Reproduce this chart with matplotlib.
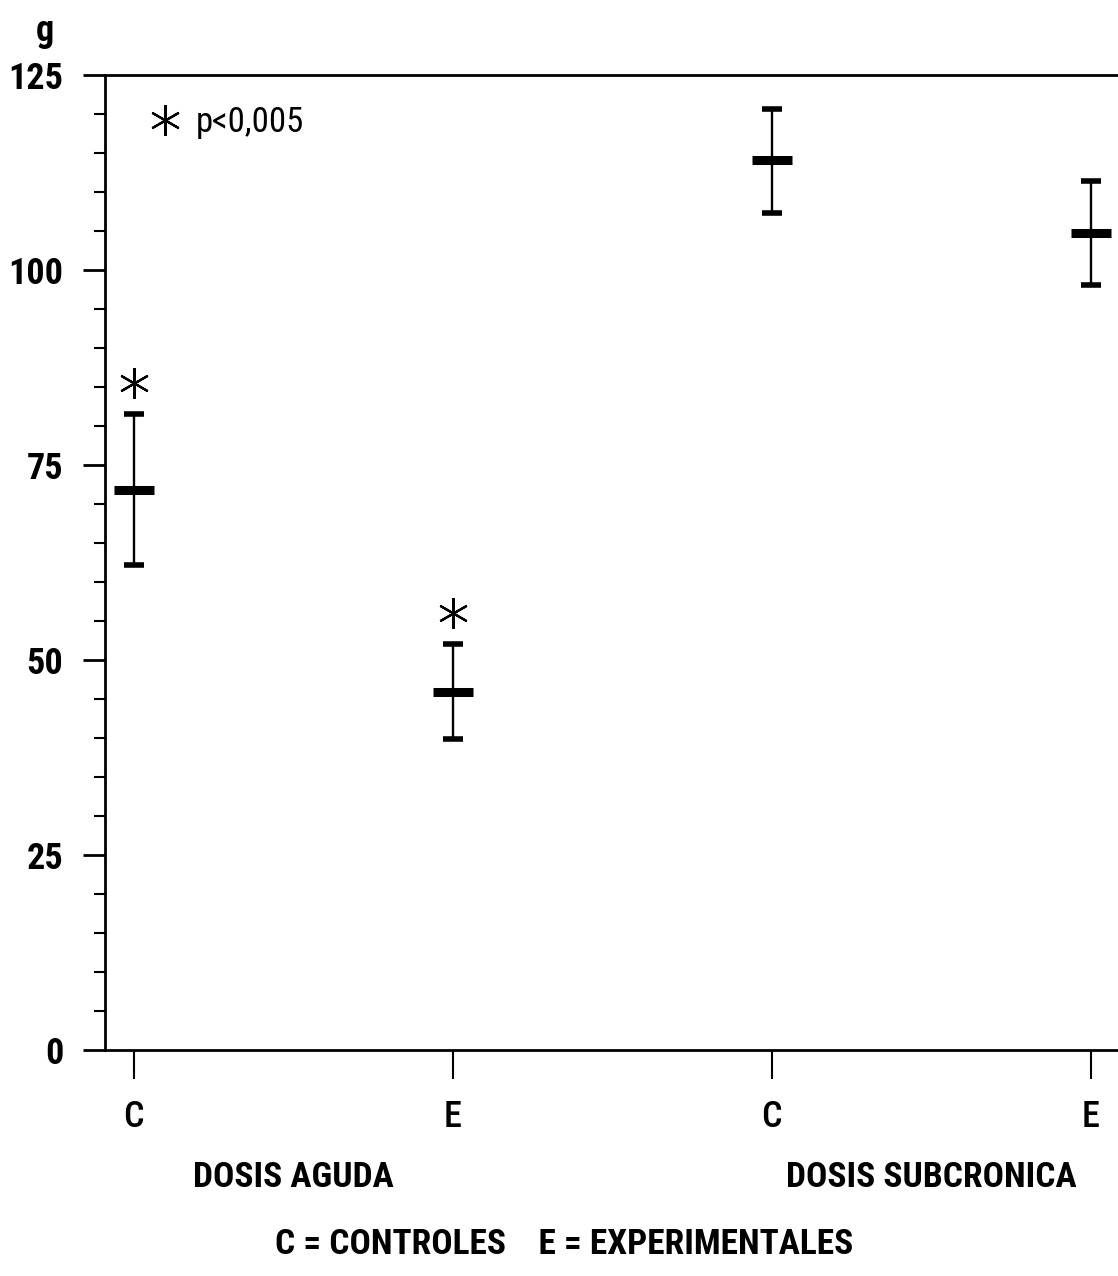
import matplotlib.pyplot as plt
from matplotlib.lines import Line2D
from matplotlib.ticker import MultipleLocator

# values (g)
groups = ["C", "E", "C", "E"]
means = [71.8, 45.9, 114.1, 104.7]
upper = [81.6, 52.0, 120.7, 111.4]
lower = [62.2, 39.9, 107.3, 98.1]
star_groups = [1, 2]
star_values = [85.5, 56.0]
dose_labels = ["DOSIS AGUDA", "DOSIS SUBCRONICA"]
key_text = "C = CONTROLES    E = EXPERIMENTALES"

NARROW = "Roboto Condensed"


def main():
    fig = plt.figure(figsize=(11.18, 12.76), dpi=100)
    ax = fig.add_axes([105 / 1118, 226 / 1276, 1013 / 1118, 975 / 1276])

    xs = list(range(1, len(groups) + 1))
    err_lo = [m - l for m, l in zip(means, lower)]
    err_hi = [u - m for m, u in zip(means, upper)]

    # error bars with caps
    ax.errorbar(xs, means, yerr=[err_lo, err_hi], fmt="none", ecolor="black",
                elinewidth=1.7, capsize=7.2, capthick=4, zorder=3)
    # thick mean marks
    ax.plot(xs, means, linestyle="none", marker="_", markersize=29,
            markeredgewidth=6.5, color="black", zorder=4)
    # significance asterisks
    ax.plot(star_groups, star_values, linestyle="none", marker=(6, 2, 0),
            markersize=22, markeredgewidth=1.6, color="black", zorder=4)

    ax.set_xlim(0.91, 4.085)
    ax.set_ylim(0, 125)

    ax.spines["right"].set_visible(False)
    for s in ["left", "bottom", "top"]:
        ax.spines[s].set_linewidth(2)

    ax.set_xticks(xs)
    ax.set_xticklabels(groups, fontfamily=NARROW, fontweight="medium",
                       fontsize=26)
    ax.tick_params(axis="x", direction="out", length=21, width=1.5, pad=14)

    ax.yaxis.set_major_locator(MultipleLocator(25))
    ax.yaxis.set_minor_locator(MultipleLocator(5))
    ax.tick_params(axis="y", which="major", direction="out", length=16,
                   width=2, pad=14)
    ax.tick_params(axis="y", which="minor", direction="out", length=8,
                   width=1.5)
    for lab in ax.get_yticklabels():
        lab.set_fontfamily(NARROW)
        lab.set_fontweight("bold")
        lab.set_fontsize(26)

    # unit label
    fig.text(45 / 1118, 1 - 31 / 1276, "g", fontfamily=NARROW,
             fontweight="bold", fontsize=26, ha="center", va="center")

    # dose group labels under the pairs
    for i, lab in enumerate(dose_labels):
        xc = (xs[2 * i] + xs[2 * i + 1]) / 2
        ax.text(xc, -16.3, lab, fontfamily=NARROW, fontweight="bold",
                fontsize=25.5, ha="center", va="center", clip_on=False)

    fig.text(564 / 1118, 1 - 1245 / 1276, key_text, fontfamily=NARROW,
             fontweight="bold", fontsize=25.5, ha="center", va="center")

    # significance key
    handle = Line2D([], [], linestyle="none", marker=(6, 2, 0), markersize=22,
                    markeredgewidth=1.6, color="black")
    ax.legend([handle], ["p<0,005"], loc="center left",
              bbox_to_anchor=(0.042, 0.951), frameon=False, handlelength=1.0,
              handletextpad=0.4, borderpad=0, borderaxespad=0,
              prop={"family": NARROW, "size": 25})

    fig.savefig("out.png", dpi=100)


if __name__ == "__main__":
    main()
